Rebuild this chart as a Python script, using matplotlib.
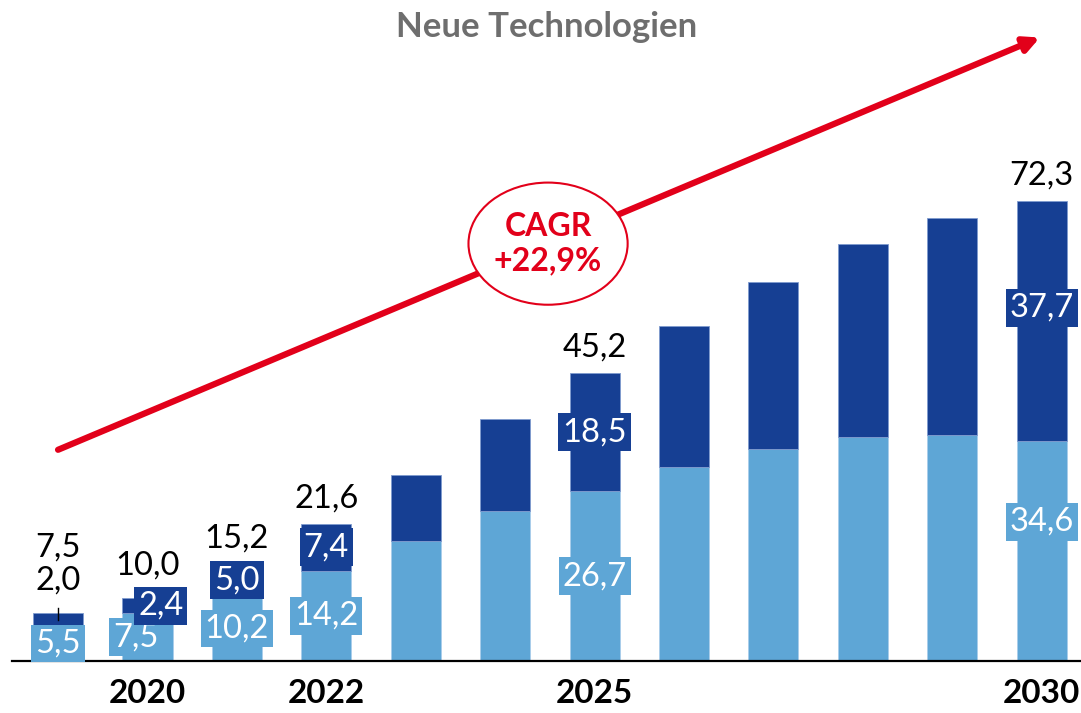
import numpy as np
import matplotlib.pyplot as plt
from matplotlib.patches import Ellipse

plt.rcParams['font.family'] = ['Lato', 'DejaVu Sans']

years = [2019, 2020, 2021, 2022, 2023, 2024, 2025, 2026, 2027, 2028, 2029, 2030]
light = [5.5, 7.5, 10.2, 14.2, 18.9, 23.6, 26.7, 30.5, 33.3, 35.2, 35.5, 34.6]
dark = [2.0, 2.4, 5.0, 7.4, 10.3, 14.4, 18.5, 22.2, 26.3, 30.4, 34.2, 37.7]
totals = [7.5, 10.0, 15.2, 21.6, 29.2, 38.0, 45.2, 52.7, 59.6, 65.6, 69.7, 72.3]
labelled = [2019, 2020, 2021, 2022, 2025, 2030]
tick_years = [2020, 2022, 2025, 2030]

c_light = '#5ea6d6'
c_dark = '#163f93'
c_red = '#e2001a'

fig = plt.figure(figsize=(10.81, 7.13), dpi=100)
ax = fig.add_axes([12/1081, 52/713, 1069/1081, 661/713])

x = np.arange(len(years))
ax.bar(x, light, 0.56, color=c_light, edgecolor='#a9cdea', linewidth=0.6)
ax.bar(x, dark, 0.56, bottom=light, color=c_dark, edgecolor='#7f9bcf', linewidth=0.6)

fs = 23.5
for i, yr in enumerate(years):
    if yr not in labelled:
        continue
    dx_l, dx_d = 0, 0
    if yr == 2020:
        dx_l, dx_d = -0.13, 0.15
    yl = light[i] / 2
    yd = light[i] + dark[i] / 2
    yt = totals[i] + 4.0
    if yr == 2030:
        yl, yd = 21.9, 55.5
    if yr == 2020:
        yt = totals[i] + 5.0
    ax.text(x[i] + dx_l, yl, f'{light[i]:.1f}'.replace('.', ','), ha='center', va='center',
            color='white', fontsize=fs,
            bbox=dict(boxstyle='square,pad=0.12', fc=c_light, ec='none'))
    if yr == 2019:
        ax.text(x[i], 12.7, f'{dark[i]:.1f}'.replace('.', ','), ha='center', va='center',
                color='black', fontsize=fs)
        ax.plot([x[i], x[i]], [6.4, 8.3], color='black', lw=1)
        yt = 17.8
    else:
        ax.text(x[i] + dx_d, yd, f'{dark[i]:.1f}'.replace('.', ','), ha='center', va='center',
                color='white', fontsize=fs,
                bbox=dict(boxstyle='square,pad=0.12', fc=c_dark, ec='none'))
    ax.text(x[i], yt, f'{totals[i]:.1f}'.replace('.', ','), ha='center', va='center',
            color='black', fontsize=fs)

# CAGR arrow
ax.annotate('', xy=(10.98, 98.0), xytext=(0, 33.2),
            arrowprops=dict(arrowstyle='-|>,head_length=0.9,head_width=0.45',
                            color=c_red, lw=4.5, shrinkA=0, shrinkB=0))
ell = Ellipse((5.48, 65.6), 1.78, 19.2, facecolor='white', edgecolor=c_red, lw=1.5, zorder=5)
ax.add_patch(ell)
ax.text(5.48, 65.6, 'CAGR\n+22,9%', ha='center', va='center', color=c_red,
        fontsize=23, fontweight='bold', linespacing=1.25, zorder=6)

ax.text(0.5, 1 - 27/661, 'Neue Technologien', transform=ax.transAxes, ha='center', va='center',
        color='#6e6e6e', fontsize=25, fontweight='bold')

ax.set_xlim(-0.515, 11.44)
ax.set_ylim(0, 103.9)
ax.set_xticks([years.index(y) for y in tick_years])
ax.set_xticklabels([str(y) for y in tick_years], fontsize=24, fontweight='bold')
ax.tick_params(axis='x', length=0, pad=13)
ax.set_yticks([])
for s in ['top', 'right', 'left']:
    ax.spines[s].set_visible(False)
ax.spines['bottom'].set_linewidth(1.6)

fig.savefig('out.png', dpi=100)
